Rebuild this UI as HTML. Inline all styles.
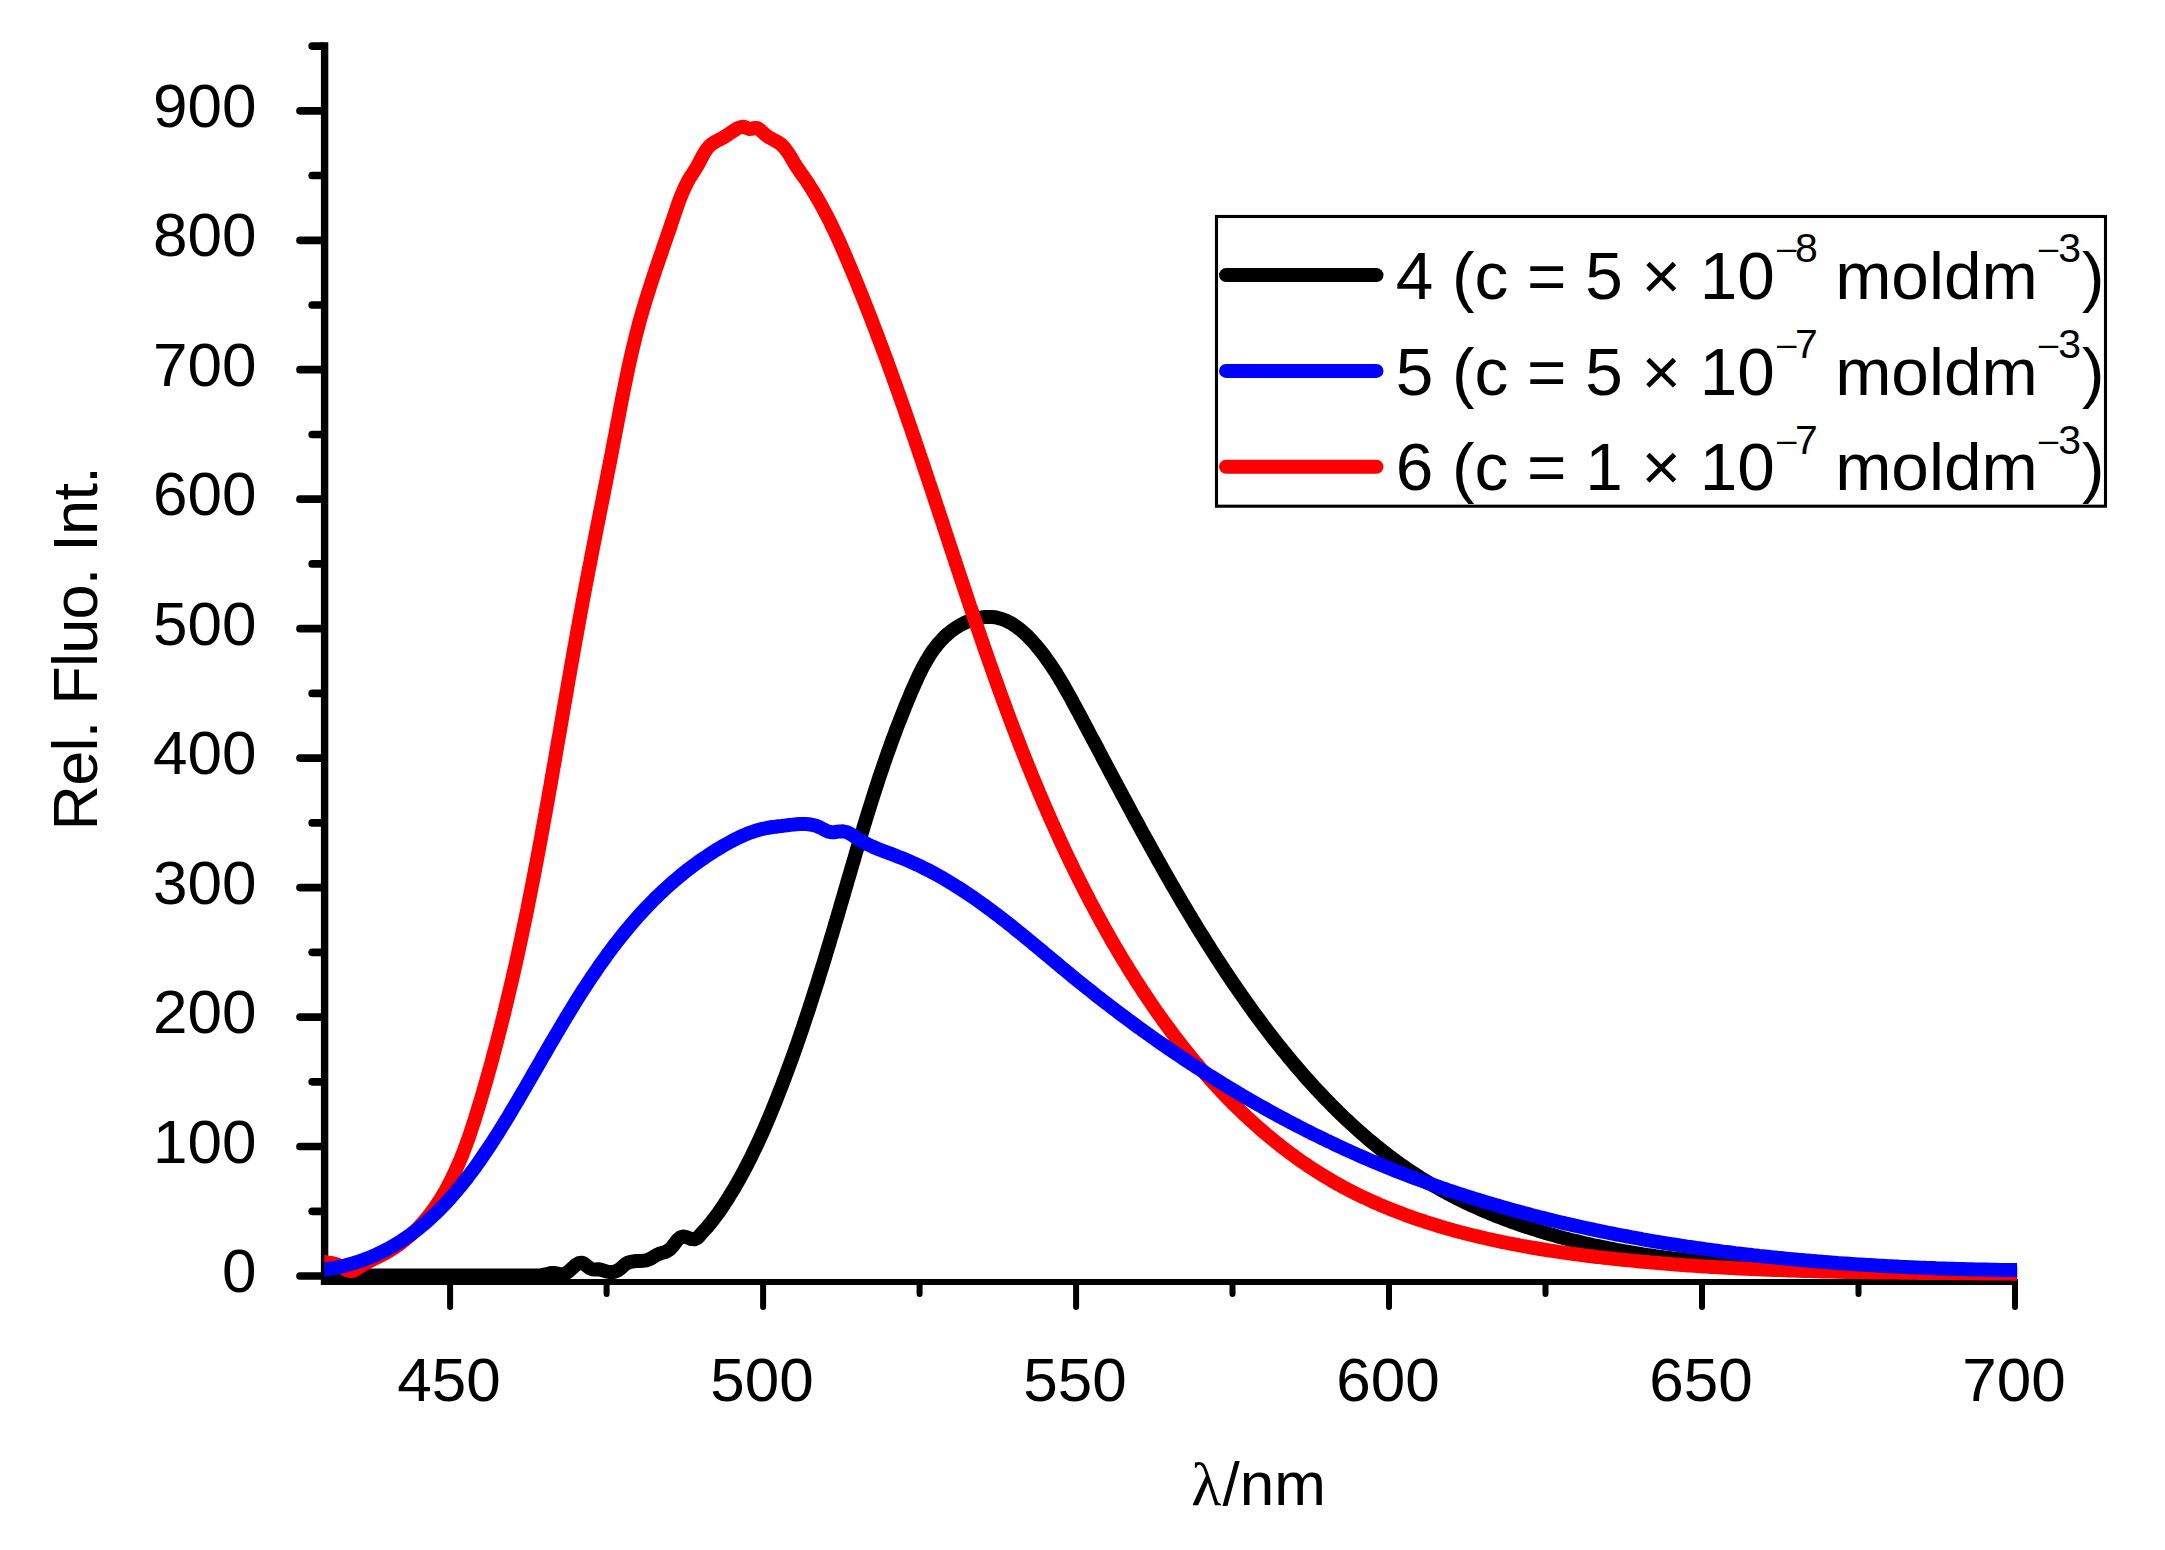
<!DOCTYPE html>
<html lang="en"><head><meta charset="utf-8"><title>Fluorescence spectra</title>
<style>html,body{margin:0;padding:0;background:#fff}svg{display:block}</style></head>
<body>
<svg width="2165" height="1550" viewBox="0 0 2165 1550">
<rect width="2165" height="1550" fill="#fff"/>
<g stroke="#000" fill="none">
<line x1="324.6" y1="42.3" x2="324.6" y2="1285.1" stroke-width="7.4"/>
<line x1="320.9" y1="1282.1" x2="2018.0" y2="1282.1" stroke-width="6.0"/>
<g stroke-width="7.7" stroke-linecap="round">
<line x1="300.0" y1="1276.0" x2="322.1" y2="1276.0"/>
<line x1="312.2" y1="1211.3" x2="322.1" y2="1211.3"/>
<line x1="300.0" y1="1146.5" x2="322.1" y2="1146.5"/>
<line x1="312.2" y1="1081.8" x2="322.1" y2="1081.8"/>
<line x1="300.0" y1="1017.1" x2="322.1" y2="1017.1"/>
<line x1="312.2" y1="952.3" x2="322.1" y2="952.3"/>
<line x1="300.0" y1="887.6" x2="322.1" y2="887.6"/>
<line x1="312.2" y1="822.9" x2="322.1" y2="822.9"/>
<line x1="300.0" y1="758.1" x2="322.1" y2="758.1"/>
<line x1="312.2" y1="693.4" x2="322.1" y2="693.4"/>
<line x1="300.0" y1="628.7" x2="322.1" y2="628.7"/>
<line x1="312.2" y1="563.9" x2="322.1" y2="563.9"/>
<line x1="300.0" y1="499.2" x2="322.1" y2="499.2"/>
<line x1="312.2" y1="434.5" x2="322.1" y2="434.5"/>
<line x1="300.0" y1="369.7" x2="322.1" y2="369.7"/>
<line x1="312.2" y1="305.0" x2="322.1" y2="305.0"/>
<line x1="300.0" y1="240.3" x2="322.1" y2="240.3"/>
<line x1="312.2" y1="175.5" x2="322.1" y2="175.5"/>
<line x1="300.0" y1="110.8" x2="322.1" y2="110.8"/>
<line x1="312.2" y1="46.1" x2="322.1" y2="46.1"/>
</g>
<g stroke-width="6" stroke-linecap="round">
<line x1="450.1" y1="1282.1" x2="450.1" y2="1307.0"/>
<line x1="606.6" y1="1282.1" x2="606.6" y2="1294.0"/>
<line x1="763.1" y1="1282.1" x2="763.1" y2="1307.0"/>
<line x1="919.6" y1="1282.1" x2="919.6" y2="1294.0"/>
<line x1="1076.1" y1="1282.1" x2="1076.1" y2="1307.0"/>
<line x1="1232.5" y1="1282.1" x2="1232.5" y2="1294.0"/>
<line x1="1389.0" y1="1282.1" x2="1389.0" y2="1307.0"/>
<line x1="1545.5" y1="1282.1" x2="1545.5" y2="1294.0"/>
<line x1="1702.0" y1="1282.1" x2="1702.0" y2="1307.0"/>
<line x1="1858.5" y1="1282.1" x2="1858.5" y2="1294.0"/>
<line x1="2015.0" y1="1282.1" x2="2015.0" y2="1307.0"/>
</g>
</g>
<clipPath id="plotclip"><rect x="324.3" y="0" width="1692.8" height="1550"/></clipPath>
<g fill="none" stroke-width="14" stroke-linejoin="round" stroke-linecap="butt" clip-path="url(#plotclip)">
<path stroke="#000" d="M314.9,1275.5 L324.9,1275.5 L327.9,1275.5 L330.9,1275.5 L333.9,1275.5 L336.9,1275.5 L339.9,1275.5 L342.9,1275.5 L345.9,1275.5 L348.9,1275.5 L351.9,1275.5 L354.9,1275.5 L357.9,1275.5 L360.9,1275.5 L363.9,1275.5 L366.9,1275.5 L369.9,1275.5 L372.9,1275.5 L375.9,1275.5 L378.9,1275.5 L381.9,1275.5 L384.9,1275.5 L387.9,1275.5 L390.9,1275.5 L394.0,1275.5 L397.0,1275.5 L400.0,1275.5 L403.0,1275.5 L406.0,1275.5 L409.0,1275.5 L412.0,1275.5 L415.0,1275.5 L418.0,1275.5 L421.0,1275.5 L424.0,1275.5 L427.0,1275.5 L430.0,1275.5 L433.0,1275.5 L436.0,1275.5 L439.0,1275.5 L442.0,1275.5 L445.0,1275.5 L448.0,1275.5 L451.0,1275.5 L454.0,1275.5 L457.0,1275.5 L460.0,1275.5 L463.0,1275.5 L466.0,1275.5 L469.0,1275.5 L472.0,1275.5 L475.0,1275.5 L478.0,1275.5 L481.0,1275.5 L484.0,1275.5 L487.0,1275.5 L490.0,1275.5 L493.0,1275.5 L496.0,1275.4 L499.0,1275.4 L502.0,1275.4 L505.0,1275.4 L508.0,1275.4 L511.0,1275.4 L514.0,1275.4 L517.0,1275.4 L520.0,1275.4 L523.0,1275.4 L526.1,1275.4 L529.1,1275.4 L532.1,1275.4 L535.1,1275.4 L538.1,1275.4 L541.1,1275.2 L544.0,1274.8 L546.9,1274.0 L549.9,1273.3 L552.8,1272.9 L555.9,1273.2 L558.9,1273.9 L561.8,1274.3 L564.5,1273.9 L567.0,1272.7 L569.3,1270.8 L571.7,1268.6 L574.2,1266.3 L576.8,1264.2 L579.5,1262.9 L582.1,1262.7 L584.5,1264.0 L587.0,1266.0 L589.5,1268.0 L592.2,1269.3 L595.0,1269.5 L598.0,1269.3 L600.9,1269.7 L603.8,1270.6 L606.7,1271.5 L609.7,1272.1 L612.7,1272.1 L615.6,1271.4 L618.3,1270.1 L620.8,1268.3 L623.0,1266.2 L625.3,1264.2 L627.8,1262.7 L630.6,1261.8 L633.6,1261.3 L636.7,1261.1 L639.8,1261.0 L642.9,1260.8 L645.9,1260.4 L648.7,1259.6 L651.3,1258.3 L653.8,1256.7 L656.4,1255.1 L659.2,1253.8 L662.1,1252.9 L665.0,1252.0 L667.7,1250.8 L670.0,1249.2 L672.1,1247.0 L674.0,1244.5 L676.0,1241.8 L678.1,1239.3 L680.4,1237.4 L682.9,1236.5 L685.7,1236.9 L688.7,1238.0 L691.6,1239.1 L694.4,1239.2 L697.0,1238.1 L699.3,1236.1 L701.4,1233.6 L703.5,1231.2 L705.6,1229.0 L707.5,1226.8 L709.4,1224.5 L711.3,1222.2 L713.1,1219.9 L714.9,1217.5 L716.7,1215.1 L718.5,1212.7 L720.2,1210.2 L721.9,1207.7 L723.6,1205.3 L725.2,1202.7 L726.8,1200.2 L728.5,1197.7 L730.0,1195.1 L731.6,1192.6 L733.2,1190.0 L734.7,1187.4 L736.2,1184.8 L737.7,1182.2 L739.2,1179.6 L740.6,1176.9 L742.1,1174.3 L743.5,1171.7 L744.9,1169.0 L746.3,1166.4 L747.7,1163.7 L749.0,1161.0 L750.4,1158.4 L751.7,1155.7 L753.0,1153.0 L754.3,1150.3 L755.6,1147.6 L756.9,1144.9 L758.2,1142.2 L759.4,1139.5 L760.6,1136.8 L761.9,1134.0 L763.1,1131.3 L764.3,1128.6 L765.5,1125.8 L766.7,1123.1 L767.8,1120.3 L769.0,1117.6 L770.2,1114.8 L771.3,1112.1 L772.4,1109.3 L773.6,1106.5 L774.7,1103.7 L775.8,1101.0 L776.9,1098.2 L778.0,1095.4 L779.1,1092.6 L780.2,1089.8 L781.3,1087.0 L782.4,1084.2 L783.4,1081.4 L784.5,1078.6 L785.5,1075.8 L786.6,1073.0 L787.6,1070.2 L788.7,1067.4 L789.7,1064.6 L790.7,1061.8 L791.8,1058.9 L792.8,1056.1 L793.8,1053.3 L794.8,1050.5 L795.8,1047.6 L796.8,1044.8 L797.8,1042.0 L798.8,1039.1 L799.7,1036.3 L800.7,1033.4 L801.7,1030.6 L802.7,1027.7 L803.6,1024.9 L804.6,1022.0 L805.5,1019.2 L806.5,1016.3 L807.4,1013.5 L808.4,1010.6 L809.3,1007.8 L810.2,1004.9 L811.2,1002.0 L812.1,999.2 L813.0,996.3 L813.9,993.4 L814.8,990.6 L815.7,987.7 L816.7,984.8 L817.6,982.0 L818.5,979.1 L819.3,976.2 L820.2,973.4 L821.1,970.5 L822.0,967.6 L822.9,964.7 L823.8,961.9 L824.7,959.0 L825.5,956.1 L826.4,953.2 L827.3,950.3 L828.1,947.5 L829.0,944.6 L829.9,941.7 L830.7,938.8 L831.6,935.9 L832.5,933.1 L833.3,930.2 L834.2,927.3 L835.0,924.4 L835.9,921.5 L836.7,918.6 L837.6,915.8 L838.4,912.9 L839.3,910.0 L840.1,907.1 L840.9,904.2 L841.8,901.4 L842.6,898.5 L843.5,895.6 L844.3,892.7 L845.1,889.9 L846.0,887.0 L846.8,884.1 L847.6,881.2 L848.5,878.3 L849.3,875.5 L850.2,872.6 L851.0,869.7 L851.8,866.9 L852.7,864.0 L853.5,861.1 L854.4,858.2 L855.2,855.4 L856.0,852.5 L856.9,849.6 L857.7,846.8 L858.6,843.9 L859.4,841.0 L860.3,838.2 L861.1,835.3 L862.0,832.4 L862.9,829.6 L863.7,826.7 L864.6,823.9 L865.5,821.0 L866.3,818.1 L867.2,815.3 L868.1,812.4 L869.0,809.6 L869.9,806.7 L870.8,803.9 L871.7,801.0 L872.6,798.2 L873.5,795.3 L874.4,792.5 L875.3,789.6 L876.2,786.8 L877.2,783.9 L878.1,781.1 L879.0,778.2 L880.0,775.4 L880.9,772.6 L881.9,769.7 L882.9,766.9 L883.8,764.0 L884.8,761.2 L885.8,758.4 L886.8,755.5 L887.8,752.7 L888.8,749.9 L889.8,747.1 L890.8,744.2 L891.8,741.4 L892.9,738.6 L893.9,735.8 L895.0,732.9 L896.0,730.1 L897.1,727.3 L898.2,724.5 L899.3,721.7 L900.4,718.9 L901.5,716.1 L902.6,713.3 L903.7,710.4 L904.8,707.6 L906.0,704.8 L907.1,702.0 L908.3,699.2 L909.5,696.4 L910.6,693.6 L911.8,690.8 L913.0,688.1 L914.3,685.3 L915.5,682.5 L916.8,679.7 L918.0,676.9 L919.3,674.2 L920.7,671.5 L922.0,668.8 L923.4,666.1 L924.9,663.5 L926.3,660.9 L927.9,658.3 L929.4,655.8 L931.0,653.3 L932.7,650.8 L934.5,648.4 L936.3,646.1 L938.1,643.8 L940.1,641.6 L942.1,639.4 L944.1,637.3 L946.3,635.3 L948.5,633.3 L950.8,631.4 L953.3,629.6 L955.7,627.9 L958.3,626.3 L960.9,624.8 L963.6,623.4 L966.3,622.1 L969.1,620.9 L971.8,619.9 L974.7,619.0 L977.5,618.2 L980.3,617.6 L983.2,617.2 L986.0,616.9 L988.8,616.9 L991.6,616.9 L994.3,617.2 L997.1,617.7 L999.7,618.4 L1002.4,619.2 L1005.0,620.2 L1007.6,621.4 L1010.1,622.7 L1012.6,624.1 L1015.0,625.7 L1017.4,627.4 L1019.8,629.3 L1022.1,631.2 L1024.4,633.2 L1026.7,635.3 L1028.9,637.5 L1031.1,639.8 L1033.2,642.1 L1035.3,644.5 L1037.3,646.9 L1039.3,649.3 L1041.3,651.8 L1043.2,654.3 L1045.1,656.8 L1046.9,659.4 L1048.7,661.9 L1050.5,664.5 L1052.2,667.0 L1053.9,669.6 L1055.6,672.2 L1057.2,674.8 L1058.8,677.4 L1060.4,680.0 L1062.0,682.7 L1063.5,685.3 L1065.0,687.9 L1066.5,690.6 L1068.0,693.2 L1069.5,695.9 L1071.0,698.5 L1072.4,701.2 L1073.8,703.9 L1075.3,706.5 L1076.7,709.2 L1078.1,711.8 L1079.6,714.5 L1081.0,717.1 L1082.4,719.8 L1083.8,722.5 L1085.2,725.1 L1086.6,727.8 L1088.0,730.4 L1089.4,733.1 L1090.8,735.7 L1092.2,738.4 L1093.7,741.0 L1095.1,743.6 L1096.5,746.3 L1097.9,748.9 L1099.3,751.6 L1100.7,754.2 L1102.0,756.8 L1103.4,759.5 L1104.8,762.1 L1106.2,764.7 L1107.6,767.4 L1109.0,770.0 L1110.4,772.6 L1111.8,775.2 L1113.2,777.9 L1114.6,780.5 L1116.0,783.1 L1117.4,785.7 L1118.8,788.3 L1120.2,791.0 L1121.6,793.6 L1123.0,796.2 L1124.4,798.8 L1125.8,801.4 L1127.2,804.0 L1128.6,806.6 L1130.0,809.2 L1131.4,811.9 L1132.8,814.5 L1134.2,817.1 L1135.6,819.7 L1137.1,822.3 L1138.5,824.9 L1139.9,827.5 L1141.3,830.1 L1142.7,832.7 L1144.1,835.3 L1145.6,837.9 L1147.0,840.4 L1148.4,843.0 L1149.9,845.6 L1151.3,848.2 L1152.7,850.8 L1154.2,853.4 L1155.6,856.0 L1157.1,858.6 L1158.5,861.2 L1160.0,863.7 L1161.4,866.3 L1162.9,868.9 L1164.3,871.5 L1165.8,874.1 L1167.3,876.6 L1168.8,879.2 L1170.2,881.8 L1171.7,884.4 L1173.2,886.9 L1174.7,889.5 L1176.2,892.1 L1177.7,894.6 L1179.2,897.2 L1180.7,899.8 L1182.2,902.4 L1183.7,904.9 L1185.3,907.5 L1186.8,910.0 L1188.3,912.6 L1189.9,915.2 L1191.4,917.7 L1193.0,920.3 L1194.5,922.8 L1196.1,925.4 L1197.6,928.0 L1199.2,930.5 L1200.8,933.1 L1202.4,935.6 L1204.0,938.2 L1205.6,940.7 L1207.2,943.3 L1208.8,945.8 L1210.4,948.4 L1212.0,950.9 L1213.7,953.5 L1215.3,956.0 L1216.9,958.6 L1218.6,961.1 L1220.2,963.6 L1221.9,966.2 L1223.6,968.7 L1225.2,971.3 L1226.9,973.8 L1228.6,976.3 L1230.3,978.8 L1232.0,981.4 L1233.7,983.9 L1235.5,986.4 L1237.2,988.9 L1238.9,991.4 L1240.7,993.9 L1242.4,996.4 L1244.2,998.9 L1245.9,1001.4 L1247.7,1003.9 L1249.5,1006.4 L1251.3,1008.9 L1253.0,1011.4 L1254.8,1013.9 L1256.6,1016.3 L1258.5,1018.8 L1260.3,1021.2 L1262.1,1023.7 L1263.9,1026.1 L1265.8,1028.6 L1267.6,1031.0 L1269.5,1033.4 L1271.4,1035.8 L1273.2,1038.3 L1275.1,1040.7 L1277.0,1043.1 L1278.9,1045.5 L1280.8,1047.8 L1282.7,1050.2 L1284.7,1052.6 L1286.6,1054.9 L1288.5,1057.3 L1290.5,1059.6 L1292.4,1062.0 L1294.4,1064.3 L1296.3,1066.6 L1298.3,1068.9 L1300.3,1071.2 L1302.3,1073.5 L1304.3,1075.8 L1306.3,1078.1 L1308.3,1080.4 L1310.4,1082.6 L1312.4,1084.9 L1314.4,1087.1 L1316.5,1089.3 L1318.6,1091.5 L1320.6,1093.7 L1322.7,1095.9 L1324.8,1098.1 L1326.9,1100.3 L1329.0,1102.4 L1331.1,1104.6 L1333.2,1106.7 L1335.3,1108.8 L1337.5,1111.0 L1339.6,1113.1 L1341.8,1115.2 L1343.9,1117.2 L1346.1,1119.3 L1348.3,1121.3 L1350.5,1123.4 L1352.7,1125.4 L1354.9,1127.4 L1357.1,1129.4 L1359.3,1131.4 L1361.6,1133.4 L1363.8,1135.3 L1366.1,1137.3 L1368.3,1139.2 L1370.6,1141.1 L1372.9,1143.0 L1375.2,1144.9 L1377.5,1146.8 L1379.8,1148.6 L1382.1,1150.5 L1384.4,1152.3 L1386.8,1154.1 L1389.1,1155.9 L1391.5,1157.7 L1393.8,1159.4 L1396.2,1161.2 L1398.6,1162.9 L1401.0,1164.6 L1403.4,1166.3 L1405.8,1168.0 L1408.2,1169.6 L1410.7,1171.3 L1413.1,1172.9 L1415.6,1174.5 L1418.0,1176.1 L1420.5,1177.7 L1423.0,1179.2 L1425.5,1180.8 L1428.0,1182.3 L1430.5,1183.8 L1433.0,1185.3 L1435.5,1186.7 L1438.1,1188.2 L1440.6,1189.6 L1443.2,1191.0 L1445.7,1192.4 L1448.3,1193.8 L1450.9,1195.2 L1453.5,1196.5 L1456.1,1197.9 L1458.7,1199.2 L1461.3,1200.5 L1463.9,1201.8 L1466.6,1203.0 L1469.2,1204.3 L1471.9,1205.5 L1474.5,1206.7 L1477.2,1207.9 L1479.9,1209.1 L1482.6,1210.3 L1485.3,1211.4 L1488.0,1212.6 L1490.7,1213.7 L1493.4,1214.8 L1496.1,1215.9 L1498.9,1217.0 L1501.6,1218.0 L1504.3,1219.1 L1507.1,1220.1 L1509.9,1221.2 L1512.6,1222.2 L1515.4,1223.2 L1518.2,1224.1 L1521.0,1225.1 L1523.8,1226.1 L1526.6,1227.0 L1529.4,1227.9 L1532.2,1228.8 L1535.0,1229.7 L1537.8,1230.6 L1540.7,1231.5 L1543.5,1232.3 L1546.4,1233.2 L1549.2,1234.0 L1552.1,1234.8 L1554.9,1235.6 L1557.8,1236.4 L1560.7,1237.2 L1563.6,1238.0 L1566.5,1238.7 L1569.3,1239.5 L1572.2,1240.2 L1575.2,1240.9 L1578.1,1241.6 L1581.0,1242.3 L1583.9,1243.0 L1586.8,1243.7 L1589.8,1244.3 L1592.7,1245.0 L1595.6,1245.6 L1598.6,1246.2 L1601.5,1246.8 L1604.5,1247.5 L1607.4,1248.0 L1610.4,1248.6 L1613.4,1249.2 L1616.3,1249.8 L1619.3,1250.3 L1622.3,1250.9 L1625.3,1251.4 L1628.2,1251.9 L1631.2,1252.4 L1634.2,1252.9 L1637.2,1253.4 L1640.2,1253.9 L1643.2,1254.4 L1646.2,1254.8 L1649.3,1255.3 L1652.3,1255.7 L1655.3,1256.2 L1658.3,1256.6 L1661.3,1257.0 L1664.4,1257.4 L1667.4,1257.8 L1670.4,1258.2 L1673.5,1258.6 L1676.5,1258.9 L1679.5,1259.3 L1682.6,1259.7 L1685.6,1260.0 L1688.7,1260.4 L1691.7,1260.7 L1694.8,1261.0 L1697.8,1261.3 L1700.9,1261.6 L1703.9,1261.9 L1707.0,1262.2 L1710.1,1262.5 L1713.1,1262.8 L1716.2,1263.1 L1719.3,1263.4 L1722.3,1263.6 L1725.4,1263.9 L1728.5,1264.1 L1731.5,1264.4 L1734.6,1264.6 L1737.7,1264.8 L1740.8,1265.0 L1743.8,1265.3 L1746.9,1265.5 L1750.0,1265.7 L1753.1,1265.9 L1756.1,1266.1 L1759.2,1266.3 L1762.3,1266.4 L1765.4,1266.6 L1768.4,1266.8 L1771.5,1267.0 L1774.6,1267.1 L1777.7,1267.3 L1780.8,1267.4 L1783.8,1267.6 L1786.9,1267.7 L1790.0,1267.8 L1793.1,1268.0 L1796.2,1268.1 L1799.2,1268.2 L1802.3,1268.4 L1805.4,1268.5 L1808.5,1268.6 L1811.5,1268.7 L1814.6,1268.8 L1817.7,1268.9 L1820.7,1269.0 L1823.8,1269.1 L1826.9,1269.2 L1829.9,1269.3 L1833.0,1269.4 L1836.1,1269.5 L1839.1,1269.5 L1842.2,1269.6 L1845.3,1269.7 L1848.3,1269.8 L1851.4,1269.9 L1854.4,1269.9 L1857.5,1270.0 L1860.5,1270.1 L1863.6,1270.1 L1866.6,1270.2 L1869.6,1270.2 L1872.7,1270.3 L1875.7,1270.4 L1878.7,1270.4 L1881.8,1270.5 L1884.8,1270.5 L1887.8,1270.6 L1890.8,1270.6 L1893.9,1270.7 L1896.9,1270.7 L1899.9,1270.8 L1902.9,1270.8 L1905.9,1270.9 L1908.9,1270.9 L1911.9,1271.0 L1914.9,1271.0 L1917.9,1271.1 L1920.9,1271.1 L1923.9,1271.2 L1926.8,1271.2 L1929.8,1271.3 L1932.8,1271.3 L1935.8,1271.4 L1938.7,1271.4 L1941.7,1271.5 L1944.6,1271.5 L1947.6,1271.6 L1950.5,1271.6 L1953.5,1271.7 L1956.4,1271.8 L1959.3,1271.8 L1962.2,1271.9 L1965.2,1271.9 L1968.1,1272.0 L1971.0,1272.1 L1973.9,1272.1 L1976.8,1272.2 L1979.7,1272.3 L1982.6,1272.4 L1985.5,1272.4 L1988.3,1272.5 L1991.2,1272.6 L1994.1,1272.7 L1996.9,1272.8 L1999.8,1272.9 L2002.6,1273.0 L2005.5,1273.1 L2008.3,1273.2 L2011.1,1273.3 L2014.0,1273.4 L2016.8,1273.5 L2026.8,1273.9"/>
<path stroke="#f00" d="M315.1,1259.9 L324.9,1262.0 L327.9,1262.6 L330.9,1263.0 L333.8,1263.5 L336.6,1264.2 L339.3,1265.6 L342.0,1267.3 L344.7,1269.0 L347.3,1270.4 L350.1,1271.0 L352.9,1270.7 L355.7,1269.5 L358.4,1267.8 L360.9,1266.2 L363.4,1264.6 L366.0,1263.1 L368.7,1261.6 L371.4,1260.2 L374.3,1258.8 L377.1,1257.5 L379.9,1256.1 L382.6,1254.6 L385.4,1253.2 L388.0,1251.6 L390.6,1250.1 L393.2,1248.4 L395.7,1246.8 L398.1,1245.1 L400.5,1243.3 L402.9,1241.5 L405.2,1239.7 L407.4,1237.8 L409.6,1235.9 L411.8,1234.0 L413.9,1232.0 L416.0,1230.0 L418.1,1227.9 L420.1,1225.8 L422.0,1223.7 L423.9,1221.5 L425.8,1219.3 L427.6,1217.1 L429.4,1214.8 L431.2,1212.5 L432.9,1210.2 L434.6,1207.8 L436.3,1205.4 L437.9,1203.0 L439.5,1200.6 L441.0,1198.1 L442.5,1195.6 L444.0,1193.1 L445.5,1190.6 L446.9,1188.0 L448.3,1185.4 L449.7,1182.8 L451.0,1180.2 L452.3,1177.5 L453.6,1174.8 L454.9,1172.1 L456.1,1169.4 L457.3,1166.7 L458.5,1163.9 L459.7,1161.2 L460.9,1158.4 L462.0,1155.6 L463.1,1152.8 L464.2,1150.0 L465.3,1147.1 L466.3,1144.3 L467.3,1141.4 L468.4,1138.6 L469.4,1135.7 L470.4,1132.8 L471.3,1129.9 L472.3,1127.0 L473.2,1124.1 L474.2,1121.2 L475.1,1118.3 L476.0,1115.3 L476.9,1112.4 L477.8,1109.5 L478.7,1106.5 L479.6,1103.6 L480.5,1100.7 L481.4,1097.7 L482.2,1094.8 L483.1,1091.9 L483.9,1088.9 L484.8,1086.0 L485.6,1083.1 L486.5,1080.1 L487.3,1077.2 L488.1,1074.2 L488.9,1071.3 L489.8,1068.4 L490.6,1065.4 L491.4,1062.5 L492.2,1059.6 L493.0,1056.6 L493.7,1053.7 L494.5,1050.8 L495.3,1047.8 L496.1,1044.9 L496.9,1042.0 L497.6,1039.0 L498.4,1036.1 L499.1,1033.1 L499.9,1030.2 L500.6,1027.3 L501.4,1024.3 L502.1,1021.4 L502.8,1018.5 L503.6,1015.5 L504.3,1012.6 L505.0,1009.7 L505.7,1006.7 L506.4,1003.8 L507.1,1000.8 L507.8,997.9 L508.5,995.0 L509.2,992.0 L509.9,989.1 L510.6,986.2 L511.3,983.2 L512.0,980.3 L512.6,977.4 L513.3,974.4 L514.0,971.5 L514.6,968.5 L515.3,965.6 L516.0,962.7 L516.6,959.7 L517.3,956.8 L517.9,953.9 L518.5,950.9 L519.2,948.0 L519.8,945.1 L520.4,942.1 L521.1,939.2 L521.7,936.2 L522.3,933.3 L522.9,930.4 L523.5,927.4 L524.2,924.5 L524.8,921.6 L525.4,918.6 L526.0,915.7 L526.6,912.7 L527.2,909.8 L527.8,906.9 L528.4,903.9 L528.9,901.0 L529.5,898.1 L530.1,895.1 L530.7,892.2 L531.3,889.2 L531.8,886.3 L532.4,883.4 L533.0,880.4 L533.6,877.5 L534.1,874.5 L534.7,871.6 L535.2,868.7 L535.8,865.7 L536.4,862.8 L536.9,859.8 L537.5,856.9 L538.0,854.0 L538.6,851.0 L539.1,848.1 L539.7,845.2 L540.2,842.2 L540.8,839.3 L541.3,836.3 L541.8,833.4 L542.4,830.4 L542.9,827.5 L543.4,824.6 L544.0,821.6 L544.5,818.7 L545.0,815.7 L545.6,812.8 L546.1,809.9 L546.6,806.9 L547.1,804.0 L547.7,801.0 L548.2,798.1 L548.7,795.1 L549.2,792.2 L549.7,789.3 L550.3,786.3 L550.8,783.4 L551.3,780.4 L551.8,777.5 L552.3,774.5 L552.8,771.6 L553.3,768.7 L553.9,765.7 L554.4,762.8 L554.9,759.8 L555.4,756.9 L555.9,753.9 L556.4,751.0 L556.9,748.0 L557.4,745.1 L557.9,742.2 L558.4,739.2 L559.0,736.3 L559.5,733.3 L560.0,730.4 L560.5,727.4 L561.0,724.5 L561.5,721.5 L562.0,718.6 L562.5,715.6 L563.0,712.7 L563.5,709.7 L564.0,706.8 L564.5,703.8 L565.1,700.9 L565.6,697.9 L566.1,695.0 L566.6,692.0 L567.1,689.1 L567.6,686.1 L568.1,683.2 L568.6,680.2 L569.2,677.3 L569.7,674.3 L570.2,671.4 L570.7,668.4 L571.2,665.5 L571.7,662.5 L572.3,659.6 L572.8,656.6 L573.3,653.7 L573.8,650.7 L574.3,647.8 L574.9,644.8 L575.4,641.9 L575.9,638.9 L576.5,636.0 L577.0,633.0 L577.5,630.1 L578.1,627.1 L578.6,624.2 L579.1,621.2 L579.7,618.2 L580.2,615.3 L580.7,612.3 L581.3,609.4 L581.8,606.4 L582.4,603.5 L582.9,600.5 L583.5,597.5 L584.0,594.6 L584.6,591.6 L585.2,588.7 L585.7,585.7 L586.3,582.8 L586.8,579.8 L587.4,576.8 L588.0,573.9 L588.5,570.9 L589.1,568.0 L589.7,565.0 L590.3,562.0 L590.8,559.1 L591.4,556.1 L592.0,553.2 L592.6,550.2 L593.1,547.2 L593.7,544.3 L594.3,541.3 L594.9,538.4 L595.5,535.4 L596.0,532.4 L596.6,529.5 L597.2,526.5 L597.8,523.6 L598.4,520.6 L599.0,517.6 L599.6,514.7 L600.1,511.7 L600.7,508.8 L601.3,505.8 L601.9,502.8 L602.5,499.9 L603.1,496.9 L603.7,494.0 L604.2,491.0 L604.8,488.0 L605.4,485.1 L606.0,482.1 L606.6,479.2 L607.2,476.2 L607.7,473.2 L608.3,470.3 L608.9,467.3 L609.5,464.4 L610.1,461.4 L610.6,458.5 L611.2,455.5 L611.8,452.5 L612.3,449.6 L612.9,446.6 L613.5,443.7 L614.0,440.7 L614.6,437.8 L615.2,434.8 L615.7,431.9 L616.3,428.9 L616.9,426.0 L617.4,423.0 L618.0,420.0 L618.5,417.1 L619.1,414.2 L619.7,411.2 L620.2,408.3 L620.8,405.3 L621.4,402.4 L621.9,399.4 L622.5,396.5 L623.1,393.5 L623.7,390.6 L624.3,387.7 L624.9,384.7 L625.5,381.8 L626.1,378.9 L626.7,375.9 L627.3,373.0 L627.9,370.1 L628.5,367.1 L629.2,364.2 L629.8,361.3 L630.5,358.4 L631.1,355.5 L631.8,352.6 L632.5,349.6 L633.2,346.7 L633.9,343.8 L634.6,340.9 L635.3,338.0 L636.0,335.1 L636.8,332.2 L637.5,329.3 L638.3,326.4 L639.0,323.5 L639.8,320.7 L640.6,317.8 L641.5,314.9 L642.3,312.0 L643.1,309.2 L644.0,306.3 L644.8,303.4 L645.7,300.5 L646.6,297.7 L647.5,294.8 L648.4,292.0 L649.3,289.1 L650.2,286.2 L651.1,283.4 L652.1,280.5 L653.0,277.7 L653.9,274.8 L654.9,272.0 L655.8,269.1 L656.8,266.3 L657.8,263.4 L658.7,260.6 L659.7,257.7 L660.7,254.9 L661.7,252.1 L662.6,249.2 L663.6,246.4 L664.6,243.5 L665.6,240.7 L666.6,237.8 L667.5,235.0 L668.5,232.1 L669.5,229.3 L670.5,226.4 L671.4,223.6 L672.4,220.7 L673.4,217.9 L674.3,215.0 L675.3,212.2 L676.3,209.3 L677.2,206.5 L678.2,203.7 L679.2,200.8 L680.3,198.0 L681.4,195.3 L682.5,192.5 L683.7,189.8 L685.0,187.0 L686.3,184.4 L687.6,181.7 L689.1,179.1 L690.6,176.6 L692.3,174.0 L693.9,171.5 L695.5,169.0 L697.1,166.4 L698.6,163.7 L700.0,161.0 L701.4,158.3 L702.8,155.5 L704.3,152.9 L705.9,150.4 L707.6,148.0 L709.6,145.9 L711.8,144.0 L714.3,142.4 L716.9,140.9 L719.6,139.5 L722.3,138.1 L724.9,136.6 L727.4,135.0 L729.8,133.3 L732.3,131.6 L734.9,129.9 L737.6,128.3 L740.5,127.1 L743.4,126.7 L746.2,127.7 L749.0,128.9 L751.8,128.8 L754.7,128.0 L757.5,128.3 L760.1,129.9 L762.5,132.1 L764.8,134.2 L767.1,136.0 L769.6,137.7 L772.4,139.2 L775.1,140.6 L777.8,142.1 L780.3,143.8 L782.5,145.8 L784.5,147.9 L786.3,150.2 L788.0,152.6 L789.6,155.1 L791.2,157.7 L792.7,160.3 L794.2,162.9 L795.8,165.5 L797.5,168.0 L799.2,170.5 L800.9,173.0 L802.6,175.4 L804.4,177.9 L806.1,180.3 L807.7,182.8 L809.4,185.3 L811.0,187.9 L812.6,190.4 L814.1,192.9 L815.7,195.5 L817.2,198.1 L818.7,200.7 L820.2,203.3 L821.6,205.9 L823.0,208.5 L824.4,211.1 L825.8,213.8 L827.2,216.4 L828.6,219.1 L829.9,221.7 L831.2,224.4 L832.5,227.1 L833.8,229.8 L835.1,232.5 L836.4,235.2 L837.6,237.9 L838.9,240.7 L840.1,243.4 L841.3,246.1 L842.5,248.9 L843.7,251.6 L844.9,254.4 L846.1,257.1 L847.3,259.9 L848.4,262.6 L849.6,265.4 L850.7,268.2 L851.9,270.9 L853.0,273.7 L854.2,276.5 L855.3,279.2 L856.5,282.0 L857.6,284.8 L858.7,287.6 L859.9,290.4 L861.0,293.1 L862.1,295.9 L863.2,298.7 L864.3,301.5 L865.4,304.3 L866.5,307.1 L867.6,309.9 L868.7,312.7 L869.8,315.5 L870.9,318.3 L872.0,321.1 L873.0,323.9 L874.1,326.7 L875.2,329.5 L876.3,332.3 L877.3,335.1 L878.4,337.9 L879.4,340.7 L880.5,343.5 L881.5,346.3 L882.6,349.1 L883.6,352.0 L884.7,354.8 L885.7,357.6 L886.8,360.4 L887.8,363.2 L888.8,366.0 L889.9,368.9 L890.9,371.7 L891.9,374.5 L892.9,377.3 L893.9,380.2 L895.0,383.0 L896.0,385.8 L897.0,388.7 L898.0,391.5 L899.0,394.3 L900.0,397.2 L901.0,400.0 L902.0,402.8 L903.0,405.7 L904.0,408.5 L905.0,411.3 L905.9,414.2 L906.9,417.0 L907.9,419.8 L908.9,422.7 L909.9,425.5 L910.9,428.4 L911.8,431.2 L912.8,434.1 L913.8,436.9 L914.8,439.7 L915.7,442.6 L916.7,445.4 L917.7,448.3 L918.6,451.1 L919.6,454.0 L920.6,456.8 L921.5,459.7 L922.5,462.5 L923.4,465.4 L924.4,468.2 L925.3,471.1 L926.3,473.9 L927.2,476.8 L928.2,479.6 L929.1,482.5 L930.1,485.3 L931.0,488.2 L932.0,491.0 L932.9,493.9 L933.9,496.7 L934.8,499.6 L935.8,502.4 L936.7,505.3 L937.7,508.1 L938.6,511.0 L939.5,513.8 L940.5,516.7 L941.4,519.5 L942.4,522.4 L943.3,525.2 L944.2,528.1 L945.2,530.9 L946.1,533.8 L947.1,536.6 L948.0,539.5 L948.9,542.3 L949.9,545.2 L950.8,548.0 L951.8,550.9 L952.7,553.7 L953.6,556.6 L954.6,559.4 L955.5,562.3 L956.5,565.1 L957.4,568.0 L958.4,570.8 L959.3,573.7 L960.2,576.5 L961.2,579.4 L962.1,582.2 L963.1,585.1 L964.0,587.9 L965.0,590.8 L965.9,593.6 L966.9,596.4 L967.8,599.3 L968.8,602.1 L969.7,605.0 L970.7,607.8 L971.7,610.7 L972.6,613.5 L973.6,616.3 L974.5,619.2 L975.5,622.0 L976.5,624.9 L977.4,627.7 L978.4,630.5 L979.4,633.4 L980.3,636.2 L981.3,639.0 L982.3,641.9 L983.3,644.7 L984.2,647.5 L985.2,650.4 L986.2,653.2 L987.2,656.0 L988.2,658.8 L989.2,661.7 L990.2,664.5 L991.2,667.3 L992.2,670.1 L993.2,673.0 L994.2,675.8 L995.2,678.6 L996.2,681.4 L997.2,684.2 L998.2,687.1 L999.2,689.9 L1000.2,692.7 L1001.3,695.5 L1002.3,698.3 L1003.3,701.1 L1004.3,703.9 L1005.4,706.7 L1006.4,709.5 L1007.5,712.4 L1008.5,715.2 L1009.5,718.0 L1010.6,720.8 L1011.7,723.6 L1012.7,726.4 L1013.8,729.2 L1014.8,732.0 L1015.9,734.8 L1017.0,737.5 L1018.1,740.3 L1019.1,743.1 L1020.2,745.9 L1021.3,748.7 L1022.4,751.5 L1023.5,754.3 L1024.6,757.1 L1025.7,759.8 L1026.8,762.6 L1027.9,765.4 L1029.1,768.2 L1030.2,770.9 L1031.3,773.7 L1032.4,776.5 L1033.6,779.2 L1034.7,782.0 L1035.9,784.8 L1037.0,787.5 L1038.2,790.3 L1039.3,793.1 L1040.5,795.8 L1041.7,798.6 L1042.8,801.3 L1044.0,804.1 L1045.2,806.8 L1046.4,809.6 L1047.6,812.3 L1048.8,815.1 L1050.0,817.8 L1051.2,820.5 L1052.4,823.3 L1053.7,826.0 L1054.9,828.8 L1056.1,831.5 L1057.4,834.2 L1058.6,836.9 L1059.8,839.7 L1061.1,842.4 L1062.4,845.1 L1063.6,847.8 L1064.9,850.5 L1066.2,853.3 L1067.5,856.0 L1068.8,858.7 L1070.1,861.4 L1071.4,864.1 L1072.7,866.8 L1074.0,869.5 L1075.3,872.2 L1076.7,874.9 L1078.0,877.6 L1079.3,880.3 L1080.7,882.9 L1082.1,885.6 L1083.4,888.3 L1084.8,891.0 L1086.2,893.7 L1087.6,896.3 L1088.9,899.0 L1090.3,901.7 L1091.7,904.3 L1093.2,907.0 L1094.6,909.7 L1096.0,912.3 L1097.4,915.0 L1098.9,917.6 L1100.3,920.3 L1101.8,922.9 L1103.3,925.6 L1104.7,928.2 L1106.2,930.9 L1107.7,933.5 L1109.2,936.1 L1110.7,938.8 L1112.2,941.4 L1113.7,944.0 L1115.2,946.6 L1116.8,949.2 L1118.3,951.9 L1119.9,954.5 L1121.4,957.1 L1123.0,959.7 L1124.6,962.3 L1126.2,964.8 L1127.7,967.4 L1129.3,970.0 L1130.9,972.6 L1132.6,975.2 L1134.2,977.7 L1135.8,980.3 L1137.5,982.9 L1139.1,985.4 L1140.8,987.9 L1142.4,990.5 L1144.1,993.0 L1145.8,995.5 L1147.5,998.1 L1149.2,1000.6 L1150.9,1003.1 L1152.6,1005.6 L1154.3,1008.1 L1156.0,1010.6 L1157.8,1013.1 L1159.5,1015.5 L1161.3,1018.0 L1163.0,1020.5 L1164.8,1022.9 L1166.6,1025.4 L1168.4,1027.8 L1170.2,1030.2 L1172.0,1032.7 L1173.8,1035.1 L1175.6,1037.5 L1177.5,1039.9 L1179.3,1042.3 L1181.2,1044.7 L1183.0,1047.0 L1184.9,1049.4 L1186.8,1051.7 L1188.7,1054.1 L1190.6,1056.4 L1192.5,1058.8 L1194.4,1061.1 L1196.3,1063.4 L1198.3,1065.7 L1200.2,1068.0 L1202.2,1070.3 L1204.1,1072.5 L1206.1,1074.8 L1208.1,1077.0 L1210.1,1079.3 L1212.1,1081.5 L1214.1,1083.7 L1216.1,1085.9 L1218.1,1088.1 L1220.2,1090.3 L1222.2,1092.5 L1224.3,1094.6 L1226.4,1096.8 L1228.4,1098.9 L1230.5,1101.1 L1232.6,1103.2 L1234.7,1105.3 L1236.9,1107.4 L1239.0,1109.4 L1241.1,1111.5 L1243.3,1113.6 L1245.4,1115.6 L1247.6,1117.6 L1249.8,1119.6 L1252.0,1121.6 L1254.2,1123.6 L1256.4,1125.6 L1258.6,1127.6 L1260.8,1129.5 L1263.0,1131.5 L1265.3,1133.4 L1267.5,1135.3 L1269.8,1137.2 L1272.1,1139.1 L1274.4,1140.9 L1276.7,1142.8 L1279.0,1144.6 L1281.3,1146.4 L1283.6,1148.2 L1286.0,1150.0 L1288.3,1151.8 L1290.7,1153.6 L1293.1,1155.3 L1295.4,1157.1 L1297.8,1158.8 L1300.2,1160.5 L1302.7,1162.2 L1305.1,1163.8 L1307.5,1165.5 L1310.0,1167.1 L1312.4,1168.7 L1314.9,1170.3 L1317.4,1171.9 L1319.9,1173.5 L1322.4,1175.0 L1324.9,1176.6 L1327.4,1178.1 L1329.9,1179.6 L1332.5,1181.1 L1335.0,1182.6 L1337.6,1184.0 L1340.2,1185.4 L1342.8,1186.9 L1345.4,1188.2 L1348.0,1189.6 L1350.6,1191.0 L1353.2,1192.3 L1355.9,1193.7 L1358.5,1195.0 L1361.2,1196.3 L1363.9,1197.5 L1366.6,1198.8 L1369.2,1200.0 L1372.0,1201.3 L1374.7,1202.5 L1377.4,1203.7 L1380.1,1204.9 L1382.9,1206.0 L1385.6,1207.2 L1388.4,1208.3 L1391.1,1209.4 L1393.9,1210.5 L1396.7,1211.6 L1399.5,1212.7 L1402.3,1213.7 L1405.1,1214.8 L1407.9,1215.8 L1410.7,1216.8 L1413.5,1217.8 L1416.4,1218.8 L1419.2,1219.8 L1422.1,1220.7 L1424.9,1221.7 L1427.8,1222.6 L1430.7,1223.5 L1433.5,1224.4 L1436.4,1225.3 L1439.3,1226.2 L1442.2,1227.1 L1445.1,1227.9 L1448.0,1228.7 L1450.9,1229.6 L1453.9,1230.4 L1456.8,1231.2 L1459.7,1232.0 L1462.6,1232.7 L1465.6,1233.5 L1468.5,1234.3 L1471.5,1235.0 L1474.4,1235.7 L1477.4,1236.4 L1480.4,1237.1 L1483.3,1237.8 L1486.3,1238.5 L1489.3,1239.2 L1492.3,1239.8 L1495.3,1240.5 L1498.2,1241.1 L1501.2,1241.8 L1504.2,1242.4 L1507.2,1243.0 L1510.2,1243.6 L1513.2,1244.2 L1516.2,1244.7 L1519.2,1245.3 L1522.3,1245.9 L1525.3,1246.4 L1528.3,1247.0 L1531.3,1247.5 L1534.3,1248.0 L1537.4,1248.5 L1540.4,1249.0 L1543.4,1249.5 L1546.4,1250.0 L1549.5,1250.5 L1552.5,1250.9 L1555.5,1251.4 L1558.5,1251.9 L1561.6,1252.3 L1564.6,1252.7 L1567.6,1253.2 L1570.7,1253.6 L1573.7,1254.0 L1576.7,1254.4 L1579.8,1254.8 L1582.8,1255.2 L1585.8,1255.6 L1588.9,1256.0 L1591.9,1256.3 L1594.9,1256.7 L1598.0,1257.1 L1601.0,1257.4 L1604.0,1257.8 L1607.1,1258.1 L1610.1,1258.4 L1613.1,1258.8 L1616.1,1259.1 L1619.2,1259.4 L1622.2,1259.7 L1625.2,1260.0 L1628.2,1260.3 L1631.2,1260.6 L1634.2,1260.9 L1637.2,1261.2 L1640.2,1261.5 L1643.2,1261.8 L1646.2,1262.0 L1649.2,1262.3 L1652.2,1262.6 L1655.2,1262.8 L1658.2,1263.1 L1661.2,1263.3 L1664.2,1263.6 L1667.2,1263.8 L1670.2,1264.0 L1673.1,1264.3 L1676.1,1264.5 L1679.1,1264.7 L1682.1,1264.9 L1685.1,1265.2 L1688.0,1265.4 L1691.0,1265.6 L1694.0,1265.8 L1696.9,1266.0 L1699.9,1266.2 L1702.9,1266.4 L1705.8,1266.6 L1708.8,1266.7 L1711.8,1266.9 L1714.7,1267.1 L1717.7,1267.3 L1720.6,1267.4 L1723.6,1267.6 L1726.6,1267.8 L1729.5,1267.9 L1732.5,1268.1 L1735.4,1268.2 L1738.4,1268.4 L1741.3,1268.5 L1744.3,1268.7 L1747.2,1268.8 L1750.2,1268.9 L1753.1,1269.1 L1756.1,1269.2 L1759.0,1269.3 L1762.0,1269.4 L1764.9,1269.6 L1767.9,1269.7 L1770.8,1269.8 L1773.8,1269.9 L1776.7,1270.0 L1779.7,1270.1 L1782.6,1270.2 L1785.6,1270.3 L1788.5,1270.4 L1791.5,1270.5 L1794.4,1270.6 L1797.4,1270.7 L1800.3,1270.8 L1803.3,1270.9 L1806.2,1271.0 L1809.2,1271.0 L1812.1,1271.1 L1815.1,1271.2 L1818.0,1271.3 L1821.0,1271.4 L1823.9,1271.4 L1826.9,1271.5 L1829.8,1271.6 L1832.8,1271.6 L1835.8,1271.7 L1838.7,1271.7 L1841.7,1271.8 L1844.6,1271.9 L1847.6,1271.9 L1850.6,1272.0 L1853.5,1272.0 L1856.5,1272.1 L1859.5,1272.1 L1862.4,1272.2 L1865.4,1272.2 L1868.4,1272.3 L1871.3,1272.3 L1874.3,1272.4 L1877.3,1272.4 L1880.3,1272.4 L1883.2,1272.5 L1886.2,1272.5 L1889.2,1272.5 L1892.2,1272.6 L1895.2,1272.6 L1898.2,1272.6 L1901.2,1272.7 L1904.2,1272.7 L1907.1,1272.7 L1910.1,1272.8 L1913.1,1272.8 L1916.1,1272.8 L1919.1,1272.9 L1922.2,1272.9 L1925.2,1272.9 L1928.2,1272.9 L1931.2,1273.0 L1934.2,1273.0 L1937.2,1273.0 L1940.2,1273.0 L1943.3,1273.1 L1946.3,1273.1 L1949.3,1273.1 L1952.4,1273.1 L1955.4,1273.2 L1958.4,1273.2 L1961.5,1273.2 L1964.5,1273.2 L1967.6,1273.3 L1970.6,1273.3 L1973.7,1273.3 L1976.7,1273.3 L1979.8,1273.4 L1982.9,1273.4 L1985.9,1273.4 L1989.0,1273.4 L1992.1,1273.5 L1995.2,1273.5 L1998.2,1273.5 L2001.3,1273.6 L2004.4,1273.6 L2007.5,1273.6 L2010.6,1273.6 L2013.7,1273.7 L2016.8,1273.7 L2026.8,1273.8"/>
<path stroke="#00f" d="M315.0,1271.0 L324.9,1269.5 L328.1,1269.0 L331.3,1268.5 L334.4,1267.9 L337.5,1267.3 L340.6,1266.6 L343.7,1265.9 L346.7,1265.1 L349.6,1264.3 L352.6,1263.4 L355.5,1262.5 L358.4,1261.6 L361.3,1260.6 L364.1,1259.6 L366.9,1258.5 L369.7,1257.4 L372.4,1256.3 L375.1,1255.1 L377.8,1253.9 L380.5,1252.6 L383.1,1251.3 L385.7,1250.0 L388.3,1248.6 L390.9,1247.2 L393.4,1245.8 L395.9,1244.3 L398.4,1242.8 L400.8,1241.2 L403.2,1239.6 L405.6,1238.0 L408.0,1236.4 L410.4,1234.7 L412.7,1233.0 L415.0,1231.3 L417.3,1229.5 L419.6,1227.7 L421.8,1225.8 L424.0,1224.0 L426.2,1222.1 L428.4,1220.2 L430.5,1218.2 L432.7,1216.3 L434.8,1214.3 L436.9,1212.2 L439.0,1210.2 L441.0,1208.1 L443.1,1206.0 L445.1,1203.9 L447.1,1201.8 L449.1,1199.6 L451.0,1197.4 L453.0,1195.2 L454.9,1193.0 L456.8,1190.7 L458.7,1188.4 L460.6,1186.2 L462.5,1183.8 L464.3,1181.5 L466.2,1179.2 L468.0,1176.8 L469.8,1174.4 L471.6,1172.0 L473.4,1169.6 L475.2,1167.2 L476.9,1164.8 L478.7,1162.3 L480.4,1159.8 L482.1,1157.3 L483.8,1154.8 L485.5,1152.3 L487.2,1149.8 L488.9,1147.3 L490.6,1144.7 L492.2,1142.2 L493.9,1139.6 L495.5,1137.1 L497.2,1134.5 L498.8,1131.9 L500.4,1129.3 L502.0,1126.7 L503.6,1124.1 L505.2,1121.5 L506.8,1118.9 L508.4,1116.3 L510.0,1113.6 L511.5,1111.0 L513.1,1108.4 L514.7,1105.7 L516.2,1103.1 L517.8,1100.5 L519.3,1097.8 L520.9,1095.2 L522.4,1092.5 L523.9,1089.9 L525.5,1087.3 L527.0,1084.6 L528.5,1082.0 L530.1,1079.3 L531.6,1076.7 L533.1,1074.0 L534.6,1071.4 L536.1,1068.8 L537.7,1066.1 L539.2,1063.5 L540.7,1060.9 L542.2,1058.2 L543.7,1055.6 L545.3,1053.0 L546.8,1050.3 L548.3,1047.7 L549.8,1045.1 L551.3,1042.5 L552.9,1039.9 L554.4,1037.3 L555.9,1034.7 L557.5,1032.1 L559.0,1029.5 L560.5,1026.9 L562.1,1024.3 L563.6,1021.7 L565.2,1019.1 L566.7,1016.5 L568.3,1014.0 L569.8,1011.4 L571.4,1008.8 L573.0,1006.3 L574.6,1003.7 L576.1,1001.2 L577.7,998.6 L579.3,996.1 L580.9,993.6 L582.5,991.1 L584.1,988.6 L585.8,986.1 L587.4,983.6 L589.0,981.1 L590.7,978.6 L592.3,976.1 L594.0,973.7 L595.7,971.2 L597.4,968.8 L599.0,966.3 L600.7,963.9 L602.5,961.5 L604.2,959.1 L605.9,956.7 L607.6,954.3 L609.4,951.9 L611.2,949.5 L612.9,947.2 L614.7,944.8 L616.5,942.5 L618.3,940.2 L620.2,937.9 L622.0,935.5 L623.8,933.3 L625.7,931.0 L627.6,928.7 L629.5,926.4 L631.4,924.2 L633.3,922.0 L635.2,919.7 L637.2,917.5 L639.1,915.3 L641.1,913.2 L643.1,911.0 L645.1,908.8 L647.1,906.7 L649.2,904.6 L651.2,902.5 L653.3,900.4 L655.4,898.3 L657.5,896.2 L659.6,894.1 L661.8,892.1 L663.9,890.1 L666.1,888.1 L668.3,886.1 L670.5,884.1 L672.8,882.1 L675.0,880.2 L677.3,878.3 L679.6,876.4 L681.9,874.5 L684.3,872.6 L686.6,870.7 L689.0,868.9 L691.4,867.1 L693.8,865.2 L696.3,863.5 L698.7,861.7 L701.2,859.9 L703.7,858.2 L706.3,856.5 L708.8,854.8 L711.4,853.1 L714.0,851.4 L716.6,849.8 L719.3,848.2 L722.0,846.6 L724.7,845.0 L727.4,843.5 L730.1,842.0 L732.9,840.5 L735.7,839.1 L738.5,837.7 L741.3,836.4 L744.1,835.1 L746.9,833.9 L749.8,832.8 L752.6,831.8 L755.4,830.8 L758.3,830.0 L761.1,829.2 L764.0,828.6 L766.8,828.0 L769.7,827.5 L772.6,827.0 L775.5,826.7 L778.4,826.3 L781.3,826.0 L784.3,825.6 L787.3,825.3 L790.4,824.9 L793.4,824.6 L796.5,824.3 L799.6,824.1 L802.7,824.0 L805.7,824.1 L808.8,824.3 L811.7,824.7 L814.6,825.4 L817.5,826.3 L820.2,827.5 L822.9,829.0 L825.6,830.4 L828.3,831.6 L831.1,832.2 L834.0,832.2 L837.0,831.8 L840.0,831.4 L842.9,831.3 L845.8,831.8 L848.4,832.8 L851.1,834.3 L853.6,836.0 L856.2,837.7 L858.8,839.4 L861.4,841.0 L864.1,842.5 L866.8,843.9 L869.5,845.2 L872.3,846.5 L875.1,847.7 L877.9,848.9 L880.7,850.0 L883.5,851.1 L886.3,852.1 L889.1,853.2 L891.9,854.2 L894.7,855.3 L897.5,856.4 L900.3,857.5 L903.1,858.6 L905.9,859.7 L908.6,860.9 L911.3,862.1 L914.0,863.3 L916.7,864.5 L919.4,865.8 L922.1,867.1 L924.7,868.4 L927.4,869.8 L930.0,871.1 L932.6,872.5 L935.2,873.9 L937.8,875.3 L940.4,876.8 L942.9,878.2 L945.5,879.7 L948.0,881.2 L950.5,882.8 L953.1,884.3 L955.6,885.9 L958.1,887.4 L960.6,889.0 L963.0,890.6 L965.5,892.3 L968.0,893.9 L970.4,895.6 L972.9,897.2 L975.3,898.9 L977.7,900.6 L980.2,902.4 L982.6,904.1 L985.0,905.8 L987.4,907.6 L989.8,909.4 L992.2,911.1 L994.5,912.9 L996.9,914.7 L999.3,916.5 L1001.6,918.4 L1004.0,920.2 L1006.4,922.0 L1008.7,923.9 L1011.1,925.7 L1013.4,927.6 L1015.7,929.5 L1018.1,931.4 L1020.4,933.2 L1022.7,935.1 L1025.0,937.0 L1027.4,938.9 L1029.7,940.8 L1032.0,942.7 L1034.3,944.7 L1036.6,946.6 L1039.0,948.5 L1041.3,950.4 L1043.6,952.4 L1045.9,954.3 L1048.2,956.2 L1050.5,958.1 L1052.9,960.1 L1055.2,962.0 L1057.5,963.9 L1059.8,965.9 L1062.1,967.8 L1064.5,969.7 L1066.8,971.6 L1069.1,973.5 L1071.4,975.5 L1073.8,977.4 L1076.1,979.3 L1078.5,981.2 L1080.8,983.1 L1083.2,985.0 L1085.5,986.9 L1087.9,988.8 L1090.2,990.6 L1092.6,992.5 L1095.0,994.4 L1097.3,996.3 L1099.7,998.1 L1102.1,1000.0 L1104.5,1001.8 L1106.9,1003.7 L1109.3,1005.5 L1111.7,1007.3 L1114.1,1009.2 L1116.5,1011.0 L1118.9,1012.8 L1121.3,1014.6 L1123.7,1016.4 L1126.1,1018.2 L1128.5,1020.0 L1131.0,1021.8 L1133.4,1023.6 L1135.8,1025.4 L1138.3,1027.2 L1140.7,1028.9 L1143.2,1030.7 L1145.6,1032.5 L1148.1,1034.2 L1150.5,1036.0 L1153.0,1037.7 L1155.4,1039.5 L1157.9,1041.2 L1160.4,1042.9 L1162.9,1044.6 L1165.3,1046.3 L1167.8,1048.1 L1170.3,1049.8 L1172.8,1051.5 L1175.3,1053.1 L1177.8,1054.8 L1180.3,1056.5 L1182.8,1058.2 L1185.3,1059.9 L1187.8,1061.5 L1190.3,1063.2 L1192.9,1064.8 L1195.4,1066.5 L1197.9,1068.1 L1200.4,1069.7 L1203.0,1071.4 L1205.5,1073.0 L1208.1,1074.6 L1210.6,1076.2 L1213.2,1077.8 L1215.7,1079.4 L1218.3,1081.0 L1220.8,1082.5 L1223.4,1084.1 L1226.0,1085.7 L1228.5,1087.3 L1231.1,1088.8 L1233.7,1090.4 L1236.3,1091.9 L1238.8,1093.4 L1241.4,1095.0 L1244.0,1096.5 L1246.6,1098.0 L1249.2,1099.5 L1251.8,1101.0 L1254.4,1102.5 L1257.0,1104.0 L1259.7,1105.5 L1262.3,1107.0 L1264.9,1108.4 L1267.5,1109.9 L1270.1,1111.3 L1272.8,1112.8 L1275.4,1114.2 L1278.0,1115.7 L1280.7,1117.1 L1283.3,1118.5 L1286.0,1119.9 L1288.6,1121.3 L1291.3,1122.7 L1293.9,1124.1 L1296.6,1125.5 L1299.3,1126.9 L1301.9,1128.2 L1304.6,1129.6 L1307.3,1131.0 L1309.9,1132.3 L1312.6,1133.7 L1315.3,1135.0 L1318.0,1136.3 L1320.7,1137.6 L1323.4,1138.9 L1326.1,1140.3 L1328.8,1141.5 L1331.5,1142.8 L1334.2,1144.1 L1336.9,1145.4 L1339.6,1146.7 L1342.3,1147.9 L1345.0,1149.2 L1347.8,1150.4 L1350.5,1151.7 L1353.2,1152.9 L1356.0,1154.1 L1358.7,1155.3 L1361.4,1156.5 L1364.2,1157.7 L1366.9,1158.9 L1369.7,1160.1 L1372.4,1161.3 L1375.2,1162.4 L1377.9,1163.6 L1380.7,1164.7 L1383.5,1165.9 L1386.2,1167.0 L1389.0,1168.1 L1391.8,1169.3 L1394.6,1170.4 L1397.3,1171.5 L1400.1,1172.6 L1402.9,1173.7 L1405.7,1174.7 L1408.5,1175.8 L1411.3,1176.9 L1414.1,1177.9 L1416.9,1179.0 L1419.7,1180.0 L1422.5,1181.0 L1425.3,1182.1 L1428.1,1183.1 L1430.9,1184.1 L1433.7,1185.1 L1436.6,1186.1 L1439.4,1187.1 L1442.2,1188.1 L1445.0,1189.0 L1447.9,1190.0 L1450.7,1191.0 L1453.5,1191.9 L1456.4,1192.9 L1459.2,1193.8 L1462.1,1194.7 L1464.9,1195.6 L1467.8,1196.6 L1470.6,1197.5 L1473.5,1198.4 L1476.3,1199.3 L1479.2,1200.1 L1482.1,1201.0 L1484.9,1201.9 L1487.8,1202.8 L1490.7,1203.6 L1493.5,1204.5 L1496.4,1205.3 L1499.3,1206.1 L1502.2,1207.0 L1505.0,1207.8 L1507.9,1208.6 L1510.8,1209.4 L1513.7,1210.2 L1516.6,1211.0 L1519.5,1211.8 L1522.4,1212.6 L1525.3,1213.4 L1528.2,1214.1 L1531.1,1214.9 L1534.0,1215.7 L1536.9,1216.4 L1539.8,1217.2 L1542.7,1217.9 L1545.6,1218.6 L1548.5,1219.4 L1551.4,1220.1 L1554.3,1220.8 L1557.3,1221.5 L1560.2,1222.2 L1563.1,1222.9 L1566.0,1223.6 L1569.0,1224.2 L1571.9,1224.9 L1574.8,1225.6 L1577.7,1226.2 L1580.7,1226.9 L1583.6,1227.5 L1586.5,1228.2 L1589.5,1228.8 L1592.4,1229.4 L1595.4,1230.1 L1598.3,1230.7 L1601.3,1231.3 L1604.2,1231.9 L1607.1,1232.5 L1610.1,1233.1 L1613.0,1233.7 L1616.0,1234.3 L1619.0,1234.9 L1621.9,1235.4 L1624.9,1236.0 L1627.8,1236.5 L1630.8,1237.1 L1633.7,1237.6 L1636.7,1238.2 L1639.7,1238.7 L1642.6,1239.3 L1645.6,1239.8 L1648.6,1240.3 L1651.5,1240.8 L1654.5,1241.3 L1657.5,1241.8 L1660.4,1242.3 L1663.4,1242.8 L1666.4,1243.3 L1669.4,1243.8 L1672.3,1244.3 L1675.3,1244.7 L1678.3,1245.2 L1681.3,1245.7 L1684.3,1246.1 L1687.2,1246.6 L1690.2,1247.0 L1693.2,1247.4 L1696.2,1247.9 L1699.2,1248.3 L1702.2,1248.7 L1705.2,1249.2 L1708.1,1249.6 L1711.1,1250.0 L1714.1,1250.4 L1717.1,1250.8 L1720.1,1251.2 L1723.1,1251.6 L1726.1,1251.9 L1729.1,1252.3 L1732.1,1252.7 L1735.1,1253.1 L1738.1,1253.4 L1741.1,1253.8 L1744.1,1254.1 L1747.1,1254.5 L1750.1,1254.8 L1753.1,1255.2 L1756.1,1255.5 L1759.1,1255.9 L1762.1,1256.2 L1765.1,1256.5 L1768.1,1256.8 L1771.1,1257.1 L1774.1,1257.4 L1777.1,1257.8 L1780.1,1258.1 L1783.1,1258.3 L1786.1,1258.6 L1789.1,1258.9 L1792.1,1259.2 L1795.1,1259.5 L1798.1,1259.8 L1801.1,1260.0 L1804.1,1260.3 L1807.1,1260.6 L1810.1,1260.8 L1813.1,1261.1 L1816.1,1261.3 L1819.1,1261.6 L1822.2,1261.8 L1825.2,1262.1 L1828.2,1262.3 L1831.2,1262.5 L1834.2,1262.7 L1837.2,1263.0 L1840.2,1263.2 L1843.2,1263.4 L1846.2,1263.6 L1849.2,1263.8 L1852.2,1264.0 L1855.2,1264.2 L1858.2,1264.4 L1861.2,1264.6 L1864.2,1264.8 L1867.2,1265.0 L1870.2,1265.1 L1873.3,1265.3 L1876.3,1265.5 L1879.3,1265.7 L1882.3,1265.8 L1885.3,1266.0 L1888.3,1266.2 L1891.3,1266.3 L1894.3,1266.5 L1897.3,1266.6 L1900.3,1266.8 L1903.3,1266.9 L1906.3,1267.0 L1909.3,1267.2 L1912.3,1267.3 L1915.3,1267.4 L1918.3,1267.6 L1921.3,1267.7 L1924.3,1267.8 L1927.3,1267.9 L1930.3,1268.0 L1933.3,1268.1 L1936.3,1268.3 L1939.3,1268.4 L1942.3,1268.5 L1945.2,1268.6 L1948.2,1268.7 L1951.2,1268.7 L1954.2,1268.8 L1957.2,1268.9 L1960.2,1269.0 L1963.2,1269.1 L1966.2,1269.2 L1969.2,1269.2 L1972.1,1269.3 L1975.1,1269.4 L1978.1,1269.5 L1981.1,1269.5 L1984.1,1269.6 L1987.1,1269.6 L1990.0,1269.7 L1993.0,1269.7 L1996.0,1269.8 L1999.0,1269.9 L2001.9,1269.9 L2004.9,1269.9 L2007.9,1270.0 L2010.9,1270.0 L2013.8,1270.1 L2016.8,1270.1 L2026.8,1270.2"/>
</g>
<g font-family="'Liberation Sans', sans-serif" font-size="62" fill="#000">
<text x="256.4" y="1292.0" text-anchor="end">0</text>
<text x="256.4" y="1162.5" text-anchor="end">100</text>
<text x="256.4" y="1033.1" text-anchor="end">200</text>
<text x="256.4" y="903.6" text-anchor="end">300</text>
<text x="256.4" y="774.1" text-anchor="end">400</text>
<text x="256.4" y="644.7" text-anchor="end">500</text>
<text x="256.4" y="515.2" text-anchor="end">600</text>
<text x="256.4" y="385.7" text-anchor="end">700</text>
<text x="256.4" y="256.3" text-anchor="end">800</text>
<text x="256.4" y="126.8" text-anchor="end">900</text>
<text x="449.1" y="1400.8" text-anchor="middle">450</text>
<text x="762.1" y="1400.8" text-anchor="middle">500</text>
<text x="1075.1" y="1400.8" text-anchor="middle">550</text>
<text x="1388.0" y="1400.8" text-anchor="middle">600</text>
<text x="1701.0" y="1400.8" text-anchor="middle">650</text>
<text x="2014.0" y="1400.8" text-anchor="middle">700</text>
</g>
<text transform="translate(97,830.5) rotate(-90)" font-family="'Liberation Sans', sans-serif" font-size="63" letter-spacing="-0.75" fill="#000">Rel. Fluo. Int.</text>
<text x="1191.3" y="1504.6" font-size="62" fill="#000"><tspan font-family="'Liberation Serif', 'DejaVu Serif', serif" font-size="62">λ</tspan><tspan font-family="'Liberation Sans', sans-serif" dx="1.2" letter-spacing="0">/nm</tspan></text>
<rect x="1216.5" y="216.5" width="889" height="289.7" fill="#fff" stroke="#000" stroke-width="3.1"/>
<g stroke-width="14" stroke-linecap="round">
<line x1="1226" y1="275.1" x2="1376.5" y2="275.1" stroke="#000"/>
<line x1="1226" y1="370.9" x2="1376.5" y2="370.9" stroke="#00f"/>
<line x1="1226" y1="466.8" x2="1376.5" y2="466.8" stroke="#f00"/>
</g>
<g font-family="'Liberation Sans', sans-serif" font-size="67.5" fill="#000">
<text y="298.6"><tspan x="1395.8">4 (c = 5 × 10</tspan><tspan x="1777" y="260.0" font-size="35">–</tspan><tspan x="1795" y="262.0" font-size="41">8</tspan><tspan x="1816.4" y="298.6"> moldm</tspan><tspan x="2038.8" y="260.0" font-size="35">–</tspan><tspan x="2058.2" y="262.0" font-size="41">3</tspan><tspan x="2082.1" y="298.6">)</tspan></text>
<text y="394.5"><tspan x="1395.8">5 (c = 5 × 10</tspan><tspan x="1777" y="355.9" font-size="35">–</tspan><tspan x="1795" y="357.9" font-size="41">7</tspan><tspan x="1816.4" y="394.5"> moldm</tspan><tspan x="2038.8" y="355.9" font-size="35">–</tspan><tspan x="2058.2" y="357.9" font-size="41">3</tspan><tspan x="2082.1" y="394.5">)</tspan></text>
<text y="490.4"><tspan x="1395.8">6 (c = 1 × 10</tspan><tspan x="1777" y="451.8" font-size="35">–</tspan><tspan x="1795" y="453.8" font-size="41">7</tspan><tspan x="1816.4" y="490.4"> moldm</tspan><tspan x="2038.8" y="451.8" font-size="35">–</tspan><tspan x="2058.2" y="453.8" font-size="41">3</tspan><tspan x="2082.1" y="490.4">)</tspan></text>
</g>
</svg>
</body></html>
